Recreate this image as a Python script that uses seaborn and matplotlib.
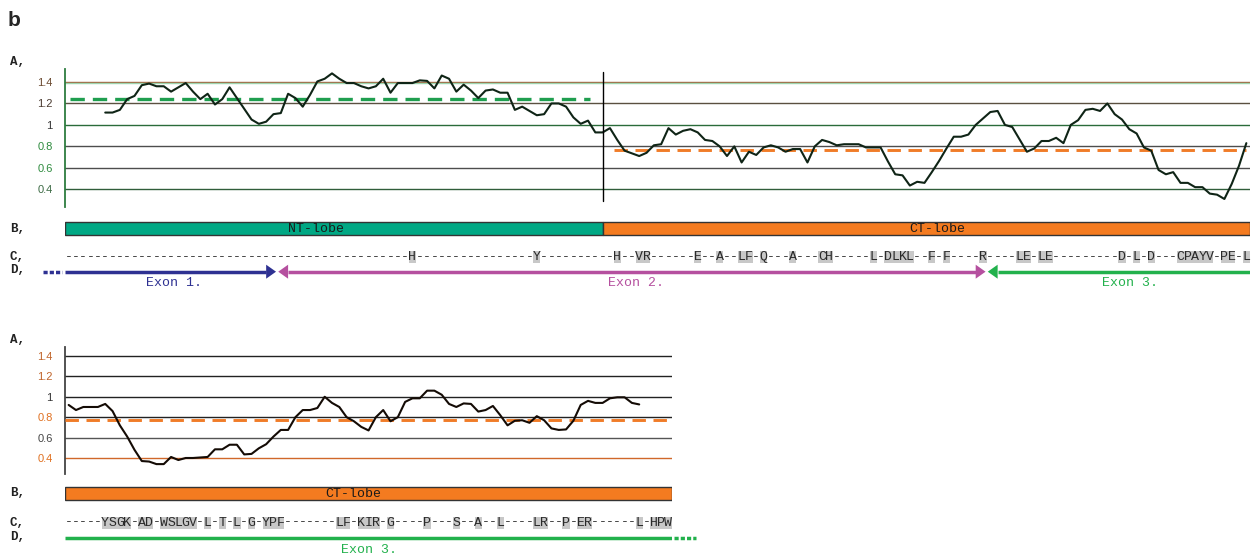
import matplotlib
matplotlib.use("Agg")
import matplotlib.pyplot as plt
from matplotlib.patches import Rectangle, Polygon
import seaborn as sns

# ---- data -------------------------------------------------------------
# hydropathy profile, one value per residue (0-based residue index)
top_first = 5
top_vals = [1.115, 1.115, 1.14, 1.24, 1.27, 1.37, 1.385, 1.36, 1.36, 1.31,   # 5-14
            1.35, 1.39, 1.31, 1.24, 1.29, 1.19, 1.24, 1.35, 1.25, 1.15,        # 15-24
            1.05, 1.01, 1.03, 1.10, 1.11, 1.29, 1.25, 1.17, 1.28, 1.405,       # 25-34
            1.43, 1.48, 1.43, 1.39, 1.39, 1.36, 1.34, 1.36, 1.43, 1.30,        # 35-44
            1.39, 1.39, 1.39, 1.415, 1.41, 1.34, 1.46, 1.43, 1.31, 1.375,      # 45-54
            1.32, 1.25, 1.32, 1.33, 1.30, 1.30, 1.14, 1.17, 1.13, 1.09,        # 55-64
            1.10, 1.20, 1.20, 1.17, 1.07, 1.01, 1.04, 0.93, 0.93, 0.97,        # 65-74
            0.86, 0.76, 0.735, 0.71, 0.74, 0.81, 0.82, 0.97, 0.91, 0.945,      # 75-84
            0.96, 0.93, 0.86, 0.85, 0.80, 0.71, 0.80, 0.65, 0.75, 0.72,        # 85-94
            0.79, 0.81, 0.79, 0.75, 0.775, 0.775, 0.65, 0.80, 0.86, 0.84,      # 95-104
            0.81, 0.82, 0.82, 0.82, 0.79, 0.79, 0.79, 0.66, 0.54, 0.53,        # 105-114
            0.435, 0.47, 0.46, 0.56, 0.665, 0.78, 0.89, 0.89, 0.91, 1.0,       # 115-124
            1.06, 1.12, 1.13, 1.0, 0.98, 0.865, 0.75, 0.78, 0.85, 0.85,        # 125-134
            0.88, 0.83, 1.0, 1.044, 1.14, 1.15, 1.13, 1.20, 1.10, 1.05,        # 135-144
            0.96, 0.92, 0.79, 0.76, 0.58, 0.54, 0.56, 0.46, 0.46, 0.42,        # 145-154
            0.42, 0.36, 0.35, 0.31, 0.45, 0.62, 0.83]                          # 155-161

bot_first = 0
bot_vals = [0.92, 0.87, 0.90, 0.90, 0.90, 0.93, 0.86, 0.72, 0.61, 0.48,
            0.37, 0.365, 0.34, 0.34, 0.41, 0.38, 0.40, 0.40, 0.405, 0.41,
            0.485, 0.485, 0.53, 0.53, 0.435, 0.44, 0.495, 0.535, 0.61, 0.675,
            0.675, 0.80, 0.87, 0.87, 0.89, 1.0, 0.94, 0.90, 0.80, 0.76,
            0.705, 0.67, 0.80, 0.87, 0.76, 0.80, 0.95, 0.985, 0.985, 1.06,
            1.06, 1.02, 0.93, 0.90, 0.935, 0.93, 0.855, 0.87, 0.91, 0.82,
            0.72, 0.765, 0.77, 0.745, 0.81, 0.77, 0.69, 0.675, 0.68, 0.765,
            0.92, 0.96, 0.94, 0.94, 0.985, 0.995, 0.995, 0.94, 0.925]

top_len, bot_len = 162, 83
nt_mean, ct_mean = 1.24, 0.77
ticks = [0.4, 0.6, 0.8, 1.0, 1.2, 1.4]
tick_labels = ["0.4", "0.6", "0.8", "1", "1.2", "1.4"]

top_seq = ("-" * 47 + "H" + "-" * 16 + "Y" + "-" * 10 +
           "H--VR------E--A--LF-Q---A---CH-----L-DLKL--F-F----R----LE-LE"
           "---------D-L-D---CPAYV-PE-L")
bot_seq = "-----YSGK-AD-WSLGV-L-T-L-G-YPF-------LF-KIR-G----P---S--A--L----LR--P-ER------L-HPW"

top_domains = [("NT-lobe", 0, 73.5), ("CT-lobe", 73.5, 162)]
bot_domains = [("CT-lobe", 0, 83)]
top_exons = [("Exon 1.", 0, 29), ("Exon 2.", 29, 126), ("Exon 3.", 126, 162)]
bot_exons = [("Exon 3.", 0, 83)]

# ---- style ------------------------------------------------------------
sns.set_style("white")
plt.rcParams["font.family"] = ["Liberation Sans", "DejaVu Sans"]
MONO = "Liberation Mono"
GREEN, ORANGE = "#00a884", "#f47b20"
EXON_COL = {"Exon 1.": "#2e3192", "Exon 2.": "#b5509f", "Exon 3.": "#22b14c"}
DOM_COL = {"NT-lobe": GREEN, "CT-lobe": ORANGE}

W, H = 1260, 556
PX = 1185 / 162
fig = plt.figure(figsize=(W / 100, H / 100), dpi=100)


def add_ax(x0, y0, x1, y1):
    return fig.add_axes([x0 / W, 1 - y1 / H, (x1 - x0) / W, (y1 - y0) / H])


def profile(ax, first, vals, n, ylim, grid_cols, label_cols, spine_col, line_col):
    xs = [first + i + 0.5 for i in range(len(vals))]
    for t, c in zip(ticks, grid_cols):
        ax.axhline(t, color=c, lw=1.0, zorder=1)
    sns.lineplot(x=xs, y=vals, ax=ax, color=line_col, lw=1.5, zorder=4)
    ax.set_xlim(0, n)
    ax.set_ylim(*ylim)
    ax.set_xticks([])
    ax.set_yticks(ticks)
    ax.set_yticklabels(tick_labels)
    ax.tick_params(axis="y", length=0, pad=9, labelsize=8)
    for lab, c in zip(ax.get_yticklabels(), label_cols):
        lab.set_color(c)
    for s in ["top", "right", "bottom"]:
        ax.spines[s].set_visible(False)
    ax.spines["left"].set_color(spine_col)
    ax.spines["left"].set_linewidth(1.3)
    ax.set_facecolor("none")


def track(ax, n, seq, domains, exons, yb, yc, yd, ylab, lab_x, dom_x, ylim):
    ax.set_xlim(0, n)
    ax.set_ylim(*ylim)
    ax.axis("off")
    # domain bar
    for (name, a, b), lx in zip(domains, dom_x):
        ax.add_patch(Rectangle((a, yb), b - a, 13.6, fc=DOM_COL[name], ec="#333333", lw=1.0))
        ax.text(lx, yb + 7, name, ha="center", va="center", family=MONO, fontsize=9.5,
                color="#1a1a1a")
    # sequence row
    for i, ch in enumerate(seq):
        if ch != "-":
            ax.add_patch(Rectangle((i, yc - 6), 1, 12, fc="#c8c8c8", ec="none"))
        ax.text(i + 0.5, yc, ch, ha="center", va="center", family=MONO, fontsize=9.5,
                color="#2a2a2a")
    # exon arrows
    hl, hh = 1.35, 7
    for k, (name, a, b) in enumerate(exons):
        c = EXON_COL[name]
        x0, x1 = a, b
        if k > 0:
            tip = a + 0.15
            ax.add_patch(Polygon([(tip, yd), (tip + hl, yd - hh), (tip + hl, yd + hh)], fc=c, ec="none"))
            x0 = tip + hl
        if k < len(exons) - 1:
            tip = b - 0.15
            ax.add_patch(Polygon([(tip, yd), (tip - hl, yd - hh), (tip - hl, yd + hh)], fc=c, ec="none"))
            x1 = tip - hl
        ax.plot([x0, x1], [yd, yd], color=c, lw=2.5, solid_capstyle="butt")
    for (name, a, b), lx in zip(exons, lab_x):
        ax.text(lx, ylab, name, ha="center", va="center", family=MONO, fontsize=9.5,
                color=EXON_COL[name])


# ---- top panel ---------------------------------------------------------
ax1 = add_ax(65, 69.3, 65 + top_len * PX, 206.7)
profile(ax1, top_first, top_vals, top_len, (0.238, 1.518),
        ["#2f5d3a", "#4d4d4d", "#4d4d4d", "#2a6b3a", "#5a5040", "#a0603a"],
        ["#3d6b45", "#2e8b3e", "#2e8b3e", "#333333", "#4a3a30", "#6b4a30"],
        "#2e7d40", "#0f2416")
ax1.axhline(1.394, color="#9ed4ae", lw=1.0, zorder=1)
ax1.plot([0.7, 71.8], [nt_mean, nt_mean], color="#1f9e4f", lw=2.4,
         ls=(0, (4.3, 2.4)), zorder=3)
ax1.plot([75, 161.4], [ct_mean, ct_mean], color="#f07c28", lw=2.1,
         ls=(0, (4.6, 2.6)), zorder=3)
ax1.plot([73.5, 73.5], [0.295, 1.49], color="black", lw=1.0, zorder=5)

tr1 = add_ax(65, 212, 65 + top_len * PX, 300)
track(tr1, top_len, top_seq, top_domains, top_exons, 221.7, 256.7, 271.7, 283.5,
      [14.9, 78.1, 145.6], [34.3, 119.3], (300, 212))
tr1.plot([-3.0, -0.4], [271.7, 271.7], color=EXON_COL["Exon 1."], lw=2.5,
         ls=(0, (1.2, 0.6)), clip_on=False, solid_capstyle="butt")

# ---- bottom panel ------------------------------------------------------
ax2 = add_ax(65, 346.7, 65 + bot_len * PX, 474)
profile(ax2, bot_first, bot_vals, bot_len, (0.243, 1.491),
        ["#d0682a", "#555555", "#222222", "#222222", "#222222", "#222222"],
        ["#e07020", "#444444", "#e07020", "#333333", "#c0642a", "#c0642a"],
        "#444444", "#140b05")
ax2.plot([0, bot_len], [ct_mean, ct_mean], color="#f07c28", lw=2.1,
         ls=(0, (4.6, 2.6)), zorder=3)

tr2 = add_ax(65, 478, 65 + bot_len * PX, 556)
track(tr2, bot_len, bot_seq, bot_domains, bot_exons, 486.8, 522.5, 538, 550,
      [41.5], [39.4], (556, 478))
tr2.plot([83.3, 86.2], [538, 538], color=EXON_COL["Exon 3."], lw=2.5,
         ls=(0, (1.2, 0.6)), clip_on=False, solid_capstyle="butt")

# ---- row labels ---------------------------------------------------------
for y, s in [(62, "A,"), (228.5, "B,"), (257, "C,"), (270, "D,"),
             (340, "A,"), (493.5, "B,"), (522.5, "C,"), (537, "D,")]:
    fig.text(10 / W, 1 - y / H, s, family=MONO, fontweight="bold", fontsize=9,
             va="center", ha="left", color="#222222")
fig.text(8 / W, 1 - 20 / H, "b", fontsize=15, fontweight="bold", va="center", ha="left")

fig.savefig("out.png", dpi=100)
